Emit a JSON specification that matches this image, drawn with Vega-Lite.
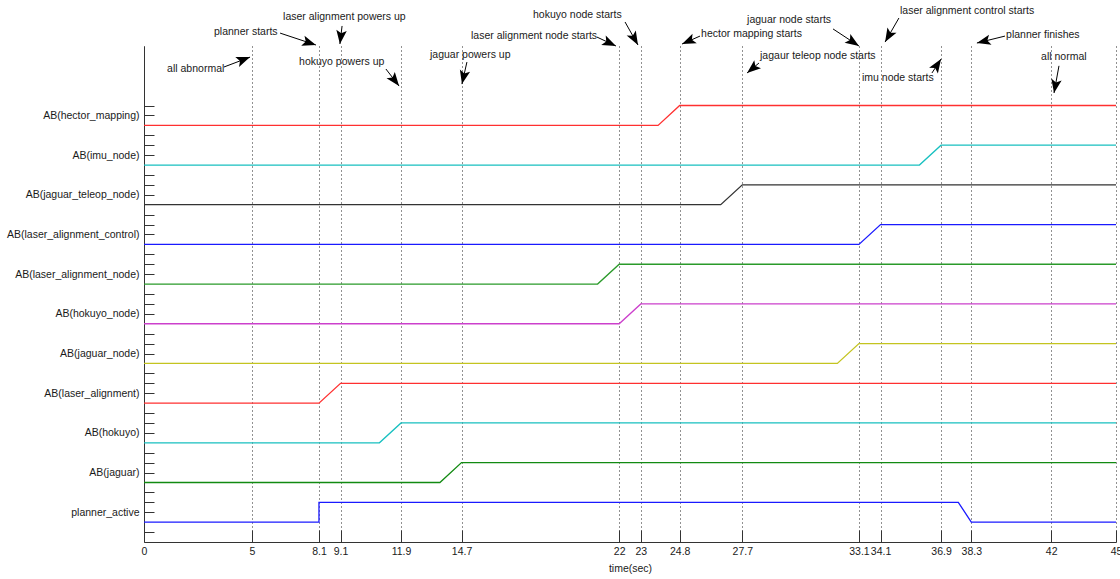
{
  "$schema": "https://vega.github.io/schema/vega-lite/v6.json",
  "width": 972,
  "height": 496,
  "autosize": "none",
  "padding": {"left": 144, "top": 46, "right": 4, "bottom": 37},
  "background": "white",
  "config": {
    "view": {"stroke": null},
    "font": "Liberation Sans",
    "axis": {
      "labelFont": "Liberation Sans",
      "labelFontSize": 10.5,
      "labelColor": "#1a1a1a",
      "labelOverlap": false,
      "titleFont": "Liberation Sans",
      "titleFontSize": 10.5,
      "titleFontWeight": "normal",
      "titleColor": "#1a1a1a",
      "domainColor": "#333333",
      "tickColor": "#333333",
      "domainWidth": 1,
      "tickWidth": 1
    }
  },
  "datasets": {
    "signals": [
      {"signal": "planner_active", "k": 0, "t": 0, "y": 0},
      {"signal": "planner_active", "k": 1, "t": 8.1, "y": 0},
      {"signal": "planner_active", "k": 2, "t": 8.1, "y": 1},
      {"signal": "planner_active", "k": 3, "t": 37.7, "y": 1},
      {"signal": "planner_active", "k": 4, "t": 38.3, "y": 0},
      {"signal": "planner_active", "k": 5, "t": 45, "y": 0},
      {"signal": "AB(jaguar)", "k": 0, "t": 0, "y": 2},
      {"signal": "AB(jaguar)", "k": 1, "t": 13.7, "y": 2},
      {"signal": "AB(jaguar)", "k": 2, "t": 14.7, "y": 3},
      {"signal": "AB(jaguar)", "k": 3, "t": 45, "y": 3},
      {"signal": "AB(hokuyo)", "k": 0, "t": 0, "y": 4},
      {"signal": "AB(hokuyo)", "k": 1, "t": 10.9, "y": 4},
      {"signal": "AB(hokuyo)", "k": 2, "t": 11.9, "y": 5},
      {"signal": "AB(hokuyo)", "k": 3, "t": 45, "y": 5},
      {"signal": "AB(laser_alignment)", "k": 0, "t": 0, "y": 6},
      {"signal": "AB(laser_alignment)", "k": 1, "t": 8.1, "y": 6},
      {"signal": "AB(laser_alignment)", "k": 2, "t": 9.1, "y": 7},
      {"signal": "AB(laser_alignment)", "k": 3, "t": 45, "y": 7},
      {"signal": "AB(jaguar_node)", "k": 0, "t": 0, "y": 8},
      {"signal": "AB(jaguar_node)", "k": 1, "t": 32.1, "y": 8},
      {"signal": "AB(jaguar_node)", "k": 2, "t": 33.1, "y": 9},
      {"signal": "AB(jaguar_node)", "k": 3, "t": 45, "y": 9},
      {"signal": "AB(hokuyo_node)", "k": 0, "t": 0, "y": 10},
      {"signal": "AB(hokuyo_node)", "k": 1, "t": 22, "y": 10},
      {"signal": "AB(hokuyo_node)", "k": 2, "t": 23, "y": 11},
      {"signal": "AB(hokuyo_node)", "k": 3, "t": 45, "y": 11},
      {"signal": "AB(laser_alignment_node)", "k": 0, "t": 0, "y": 12},
      {"signal": "AB(laser_alignment_node)", "k": 1, "t": 21, "y": 12},
      {"signal": "AB(laser_alignment_node)", "k": 2, "t": 22, "y": 13},
      {"signal": "AB(laser_alignment_node)", "k": 3, "t": 45, "y": 13},
      {"signal": "AB(laser_alignment_control)", "k": 0, "t": 0, "y": 14},
      {"signal": "AB(laser_alignment_control)", "k": 1, "t": 33.1, "y": 14},
      {"signal": "AB(laser_alignment_control)", "k": 2, "t": 34.1, "y": 15},
      {"signal": "AB(laser_alignment_control)", "k": 3, "t": 45, "y": 15},
      {"signal": "AB(jaguar_teleop_node)", "k": 0, "t": 0, "y": 16},
      {"signal": "AB(jaguar_teleop_node)", "k": 1, "t": 26.7, "y": 16},
      {"signal": "AB(jaguar_teleop_node)", "k": 2, "t": 27.7, "y": 17},
      {"signal": "AB(jaguar_teleop_node)", "k": 3, "t": 45, "y": 17},
      {"signal": "AB(imu_node)", "k": 0, "t": 0, "y": 18},
      {"signal": "AB(imu_node)", "k": 1, "t": 35.9, "y": 18},
      {"signal": "AB(imu_node)", "k": 2, "t": 36.9, "y": 19},
      {"signal": "AB(imu_node)", "k": 3, "t": 45, "y": 19},
      {"signal": "AB(hector_mapping)", "k": 0, "t": 0, "y": 20},
      {"signal": "AB(hector_mapping)", "k": 1, "t": 23.8, "y": 20},
      {"signal": "AB(hector_mapping)", "k": 2, "t": 24.8, "y": 21},
      {"signal": "AB(hector_mapping)", "k": 3, "t": 45, "y": 21}
    ],
    "notes": [
      {"label": "all abnormal", "tx": 1.07, "ty": 22.84, "x1": 3.70, "y1": 22.94, "x2": 4.91, "y2": 23.44},
      {"label": "planner starts", "tx": 3.24, "ty": 24.70, "x1": 6.30, "y1": 24.65, "x2": 7.96, "y2": 24.05},
      {"label": "laser alignment powers up", "tx": 6.44, "ty": 25.46, "x1": 9.17, "y1": 25.01, "x2": 9.07, "y2": 24.10},
      {"label": "hokuyo powers up", "tx": 7.18, "ty": 23.19, "x1": 11.20, "y1": 22.84, "x2": 11.81, "y2": 21.98},
      {"label": "jaguar powers up", "tx": 13.24, "ty": 23.55, "x1": 14.95, "y1": 23.19, "x2": 14.72, "y2": 22.08},
      {"label": "laser alignment node starts", "tx": 15.14, "ty": 24.50, "x1": 20.97, "y1": 24.45, "x2": 21.85, "y2": 24.0},
      {"label": "hokuyo node starts", "tx": 18.01, "ty": 25.56, "x1": 22.27, "y1": 25.21, "x2": 22.87, "y2": 24.05},
      {"label": "hector mapping starts", "tx": 25.79, "ty": 24.60, "x1": 25.74, "y1": 24.50, "x2": 24.91, "y2": 24.10},
      {"label": "jaguar node starts", "tx": 27.92, "ty": 25.31, "x1": 31.90, "y1": 24.86, "x2": 33.10, "y2": 24.0},
      {"label": "jagaur teleop node starts", "tx": 28.52, "ty": 23.49, "x1": 28.47, "y1": 23.14, "x2": 27.92, "y2": 22.64},
      {"label": "laser alignment control starts", "tx": 35.0, "ty": 25.76, "x1": 34.95, "y1": 25.41, "x2": 34.31, "y2": 24.20},
      {"label": "imu node starts", "tx": 33.24, "ty": 22.39, "x1": 36.48, "y1": 22.64, "x2": 36.90, "y2": 23.34},
      {"label": "planner finishes", "tx": 39.91, "ty": 24.55, "x1": 39.86, "y1": 24.50, "x2": 38.56, "y2": 24.15},
      {"label": "all normal", "tx": 41.53, "ty": 23.44, "x1": 42.36, "y1": 23.0, "x2": 42.13, "y2": 21.63}
    ]
  },
  "layer": [
    {
      "data": {"name": "signals"},
      "mark": {"type": "line", "strokeWidth": 1.3, "interpolate": "linear"},
      "encoding": {
        "x": {
          "field": "t", "type": "quantitative", "title": "time(sec)",
          "scale": {"domain": [0, 45], "nice": false, "zero": false},
          "axis": {
            "values": [0, 5, 8.1, 9.1, 11.9, 14.7, 22, 23, 24.8, 27.7, 33.1, 34.1, 36.9, 38.3, 42, 45],
            "tickCount": 200,
            "labelExpr": "'' + datum.value",
            "labelOverlap": false,
            "labelFlush": false,
            "tickSize": -12,
            "labelPadding": 16,
            "titlePadding": 7,
            "grid": true,
            "gridColor": "#222222",
            "gridDash": [1, 3],
            "gridOpacity": 1,
            "gridWidth": 1
          }
        },
        "y": {
          "field": "y", "type": "quantitative", "title": null,
          "scale": {"domain": [-1, 24], "nice": false, "zero": false},
          "axis": {
            "values": [-0.5, 0.5, 1, 1.5, 2.5, 3, 3.5, 4.5, 5, 5.5, 6.5, 7, 7.5, 8.5, 9, 9.5, 10.5, 11, 11.5, 12.5, 13, 13.5, 14.5, 15, 15.5, 16.5, 17, 17.5, 18.5, 19, 19.5, 20.5, 21],
            "tickCount": 200,
            "labelExpr": "datum.value % 2 == 0.5 ? ['planner_active','AB(jaguar)','AB(hokuyo)','AB(laser_alignment)','AB(jaguar_node)','AB(hokuyo_node)','AB(laser_alignment_node)','AB(laser_alignment_control)','AB(jaguar_teleop_node)','AB(imu_node)','AB(hector_mapping)'][floor(datum.value / 2)] : ''",
            "labelOverlap": false,
            "tickSize": -10,
            "labelPadding": 15,
            "grid": false
          }
        },
        "color": {
          "field": "signal", "type": "nominal", "legend": null,
          "scale": {
            "domain": ["planner_active", "AB(jaguar)", "AB(hokuyo)", "AB(laser_alignment)", "AB(jaguar_node)", "AB(hokuyo_node)", "AB(laser_alignment_node)", "AB(laser_alignment_control)", "AB(jaguar_teleop_node)", "AB(imu_node)", "AB(hector_mapping)"],
            "range": ["#1a1aff", "#128a12", "#18c0c0", "#ff3030", "#c4c420", "#cc40cc", "#2a9a2a", "#1a1aff", "#333333", "#18c0c0", "#ff3030"]
          }
        },
        "order": {"field": "k", "type": "quantitative"}
      }
    },
    {
      "data": {"name": "notes"},
      "mark": {"type": "rule", "color": "#000000", "strokeWidth": 1},
      "encoding": {
        "x": {"field": "x1", "type": "quantitative", "title": "time(sec)"},
        "y": {"field": "y1", "type": "quantitative", "title": null},
        "x2": {"field": "x2"},
        "y2": {"field": "y2"}
      }
    },
    {
      "data": {"name": "notes"},
      "transform": [
        {"calculate": "atan2((datum.x2 - datum.x1) * 21.6, (datum.y2 - datum.y1) * 19.84) * 180 / PI", "as": "ang"}
      ],
      "mark": {"type": "point", "shape": "M0,0 L-0.38,1 L0,0.78 L0.38,1 Z", "filled": true, "color": "#000000", "opacity": 1, "size": 760, "strokeWidth": 0},
      "encoding": {
        "x": {"field": "x2", "type": "quantitative", "title": "time(sec)"},
        "y": {"field": "y2", "type": "quantitative", "title": null},
        "angle": {"field": "ang", "type": "quantitative", "scale": null}
      }
    },
    {
      "data": {"name": "notes"},
      "mark": {"type": "text", "align": "left", "baseline": "middle", "fontSize": 10.5, "font": "Liberation Sans", "color": "#1a1a1a"},
      "encoding": {
        "x": {"field": "tx", "type": "quantitative", "title": "time(sec)"},
        "y": {"field": "ty", "type": "quantitative", "title": null},
        "text": {"field": "label", "type": "nominal"}
      }
    }
  ]
}
